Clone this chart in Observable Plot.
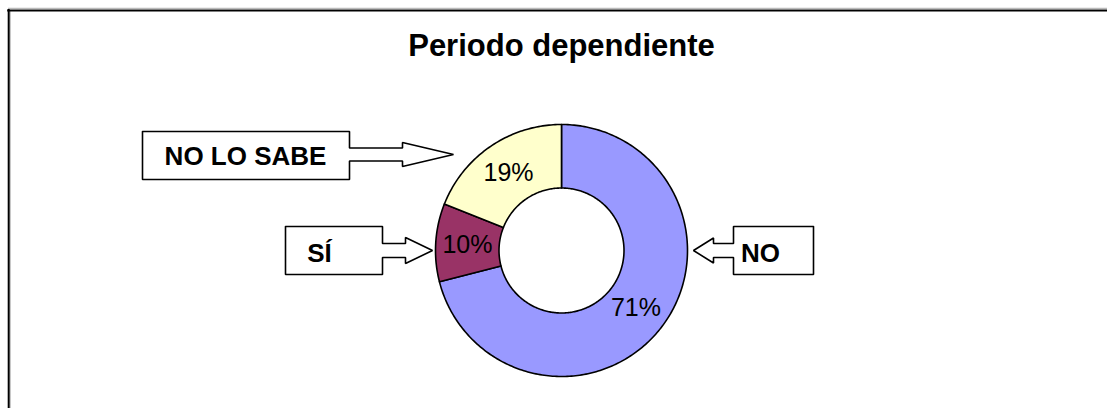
<!DOCTYPE html>
<html><head><meta charset="utf-8">
<script src="https://cdn.jsdelivr.net/npm/d3@7"></script>
<script src="https://cdn.jsdelivr.net/npm/@observablehq/plot@0.6"></script>
<style>html,body{margin:0;padding:0;background:#fff;overflow:hidden}</style>
</head><body><div id="chart"></div>
<script>
// ---- data ----
const chartTitle = "Periodo dependiente";
const categories = ["NO", "SÍ", "NO LO SABE"];
const values = [71, 10, 19];
const valueLabels = ["71%", "10%", "19%"];
const sliceColors = ["#9999FF", "#993366", "#FFFFCC"];
const calloutTexts = ["NO", "SÍ", "NO LO SABE"];

// ---- layout ----
const W = 1107, H = 408;
const cx = 561, cy = 250, rOuter = 126, rInner = 62.5;
const font = "Arial, 'Liberation Sans', sans-serif";

// slices (clockwise from 12 o'clock)
const total = d3.sum(values);
let acc = 0;
const slices = categories.map((c, i) => {
  const a0 = acc / total * 2 * Math.PI;
  acc += values[i];
  const a1 = acc / total * 2 * Math.PI;
  return {cat: c, value: values[i], label: valueLabels[i], color: sliceColors[i], a0, a1};
});
const pt = (a, r) => ({x: cx + r * Math.sin(a), y: cy - r * Math.cos(a)});
const ringPts = [];
for (const s of slices) {
  const n = Math.max(8, Math.ceil((s.a1 - s.a0) * 60));
  const pts = [];
  for (let k = 0; k <= n; k++) pts.push(pt(s.a0 + (s.a1 - s.a0) * k / n, rOuter));
  for (let k = n; k >= 0; k--) pts.push(pt(s.a0 + (s.a1 - s.a0) * k / n, rInner));
  pts.push(pts[0]);
  pts.forEach(p => ringPts.push({...p, cat: s.cat, color: s.color}));
}
const labelPts = slices.map(s => ({...pt((s.a0 + s.a1) / 2, (rOuter + rInner) / 2), label: s.label}));

// callouts: box [x1,x2,y1,y2], arrow: side, shaft half-height, head half-height, head length, tip
const calloutBoxes = [
  {cat: "NO", x1: 733, x2: 813, y1: 226, y2: 274, dir: -1, shaftEnd: 713, tipX: 693, tipY: 250, sh: 7, hh: 12.5, tx: 760, ty: 253},
  {cat: "SÍ", x1: 285, x2: 382, y1: 226, y2: 274, dir: 1, shaftEnd: 405, tipX: 432, tipY: 250, sh: 7, hh: 13, tx: 319, ty: 253},
  {cat: "NO LO SABE", x1: 142, x2: 349, y1: 131, y2: 179, dir: 1, shaftEnd: 402, tipX: 453, tipY: 154, sh: 6.5, hh: 12, tx: 245, ty: 156}
];
const calloutPts = [];
calloutBoxes.forEach((b, i) => {
  const ay = b.tipY;
  let pts;
  if (b.dir > 0) {
    pts = [[b.x1,b.y1],[b.x2,b.y1],[b.x2,ay-b.sh],[b.shaftEnd,ay-b.sh],[b.shaftEnd,ay-b.hh],[b.tipX,ay],
           [b.shaftEnd,ay+b.hh],[b.shaftEnd,ay+b.sh],[b.x2,ay+b.sh],[b.x2,b.y2],[b.x1,b.y2],[b.x1,b.y1]];
  } else {
    pts = [[b.x2,b.y1],[b.x1,b.y1],[b.x1,ay-b.sh],[b.shaftEnd,ay-b.sh],[b.shaftEnd,ay-b.hh],[b.tipX,ay],
           [b.shaftEnd,ay+b.hh],[b.shaftEnd,ay+b.sh],[b.x1,ay+b.sh],[b.x1,b.y2],[b.x2,b.y2],[b.x2,b.y1]];
  }
  pts.forEach(([x, y]) => calloutPts.push({x, y, id: i}));
});
const calloutLabels = calloutBoxes.map((b, i) => ({x: b.tx, y: b.ty, text: calloutTexts[categories.indexOf(b.cat)]}));

const chart = Plot.plot({
  width: W, height: H,
  margin: 0,
  x: {domain: [0, W], range: [0, W], axis: null},
  y: {domain: [0, H], range: [0, H], axis: null},
  style: {fontFamily: font, background: "#fff", overflow: "visible"},
  marks: [
    // frame
    Plot.ruleY([7.8], {x1: 8, x2: W, stroke: "#aaa", strokeWidth: 1}),
    Plot.ruleX([9.8], {y1: 11, y2: H, stroke: "#bbb", strokeWidth: 1}),
    Plot.ruleY([10], {x1: 7.2, x2: W, stroke: "#000", strokeWidth: 2}),
    Plot.ruleX([8.2], {y1: 9, y2: H, stroke: "#000", strokeWidth: 2}),
    // title
    Plot.text([chartTitle], {x: cx, y: 45.5, text: d => d, fontSize: 31, fontWeight: "bold", fontFamily: font, fill: "#000", lineAnchor: "middle", textAnchor: "middle"}),
    // donut
    Plot.line(ringPts, {x: "x", y: "y", z: "cat", fill: d => d.color, stroke: "#000", strokeWidth: 1.6, curve: "linear", strokeLinejoin: "round"}),
    Plot.text(labelPts, {x: "x", y: "y", text: "label", fontSize: 25, fontFamily: font, fill: "#000", lineAnchor: "middle", textAnchor: "middle"}),
    // callouts
    Plot.line(calloutPts, {x: "x", y: "y", z: "id", fill: "#fff", stroke: "#000", strokeWidth: 1.6, strokeLinejoin: "miter"}),
    Plot.text(calloutLabels, {x: "x", y: "y", text: "text", fontSize: 26, fontWeight: "bold", fontFamily: font, fill: "#000", lineAnchor: "middle", textAnchor: "middle"})
  ]
});
document.getElementById("chart").appendChild(chart);
</script>
</body></html>
